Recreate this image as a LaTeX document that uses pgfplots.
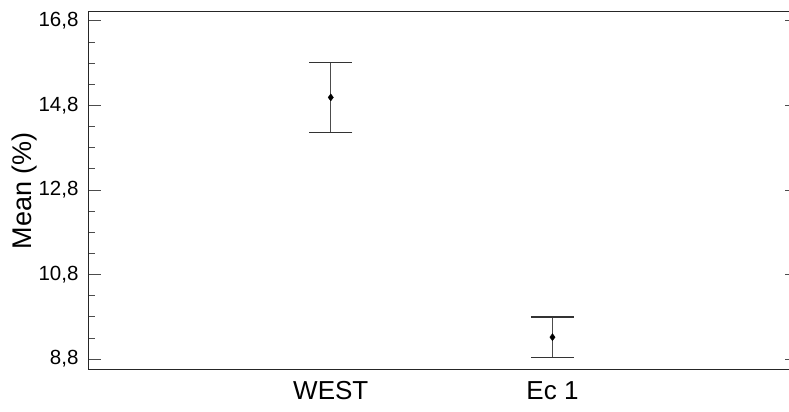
\documentclass[border=0pt]{standalone}
\usepackage{pgfplots}
\pgfplotsset{compat=1.18}
\usepackage{fontspec}
\setmainfont{Liberation Sans}
\begin{document}
\begin{tikzpicture}[x=1pt,y=1pt]
\begin{axis}[
  at={(0,0)}, anchor=south west,
  scale only axis, width=710pt, height=357.3pt,
  xmin=-1.095, xmax=2.1075,
  ymin=8.56, ymax=17.01,
  xtick={0,1}, xticklabels={WEST,Ec 1},
  major x tick style={draw=none},
  ytick={8.8,10.8,12.8,14.8,16.8},
  minor y tick num=3,
  tick align=inside,
  major tick length=13pt, minor tick length=7pt,
  axis line style={black!85, line width=1pt},
  tick style={black!70, line width=1pt},
  yticklabel style={/pgf/number format/use comma, /pgf/number format/fixed, /pgf/number format/fixed zerofill, /pgf/number format/precision=1, /pgf/number format/assume math mode=true, font=\fontsize{20.5}{24}\selectfont, xshift=-6pt},
  xticklabel style={font=\fontsize{26}{31}\selectfont, yshift=-9pt},
  ylabel={Mean (\%)},
  every axis y label/.style={at={(axis description cs:0,0.5)}, xshift=-63pt, rotate=90, anchor=center, font=\fontsize{27}{32}\selectfont},
  clip=false,
]
\addplot[only marks, mark=diamond*, mark size=3.5pt, black,
  error bars/.cd, y dir=both, y explicit,
  error bar style={black!70, line width=1.2pt},
  error mark options={rotate=90, mark size=21.5pt, black!80, line width=1.2pt}]
  table[x=x, y=y, y error=e] {
  x y e
  0 14.99 0.83
  1 9.32 0.477
  };
\end{axis}
\pgfresetboundingbox
\path[use as bounding box] (-88,-42) rectangle (701,369.3);
\end{tikzpicture}
\end{document}
